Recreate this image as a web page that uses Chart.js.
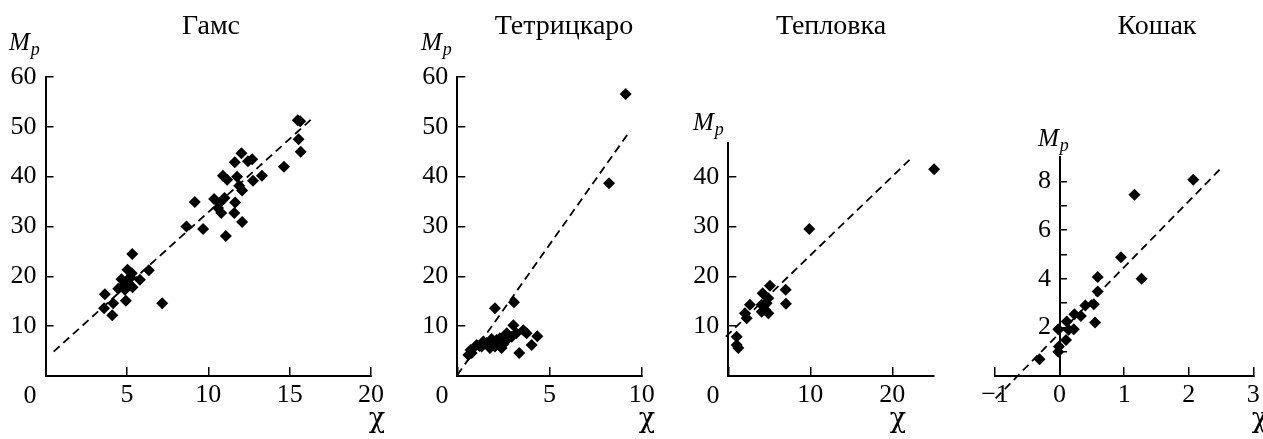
<!DOCTYPE html>
<html>
<head>
<meta charset="utf-8">
<script src="https://cdn.jsdelivr.net/npm/chart.js@4/dist/chart.umd.min.js"></script>
<style>
  body { margin: 0; background: #fff; width: 1263px; height: 439px; overflow: hidden; position: relative; }
  canvas { position: absolute; left: 0; top: 0; }
</style>
</head>
<body>
<canvas id="c1" width="1263" height="439"></canvas>
<canvas id="c2" width="1263" height="439"></canvas>
<canvas id="c3" width="1263" height="439"></canvas>
<canvas id="c4" width="1263" height="439"></canvas>
<script>
// Гамс
const gamsX = [3.65, 3.6, 4.16, 4.1, 4.94, 7.17, 5.33, 5.04, 4.67, 4.47, 5.3, 5.1, 4.88, 5.35, 5.8, 6.35, 4.8, 5.2,
  8.66, 9.17, 9.68, 10.36, 10.7, 10.8, 10.6, 11.0, 10.9, 11.16, 11.08, 11.63, 12.04, 11.77, 11.9, 12.08, 11.65, 11.6,
  12.08, 12.44, 12.7, 12.75, 13.3, 14.65, 15.5, 15.65, 15.55, 15.68];
const gamsY = [16.4, 13.6, 14.6, 12.2, 15.1, 14.6, 24.5, 21.3, 19.4, 17.5, 20.6, 18.6, 17.3, 17.8, 19.3, 21.2, 18.2, 19.8,
  30.0, 34.9, 29.5, 35.5, 34.7, 32.7, 33.7, 35.7, 40.2, 39.4, 28.1, 42.9, 44.7, 40.0, 38.2, 37.2, 34.8, 32.7,
  30.9, 43.1, 43.5, 39.2, 40.2, 42.0, 51.3, 51.1, 47.5, 45.0];
const gamsFitX = [0.5, 16.4];
const gamsFitY = [4.9, 51.7];

// Тетрицкаро
const tetrX = [9.13, 8.23, 2.04, 3.07, 3.04, 3.36, 4.03, 4.34, 3.58, 3.76, 3.2, 2.68, 0.6, 0.72, 1.05, 1.32, 1.59,
  1.86, 2.13, 2.04, 2.4, 2.31, 2.68, 2.95, 1.41, 0.78, 1.77, 2.5, 1.2, 2.2];
const tetrY = [56.6, 38.7, 13.6, 14.8, 10.2, 4.6, 6.2, 8.0, 9.2, 8.6, 8.6, 8.6, 4.2, 5.2, 6.2, 5.9, 6.6,
  7.4, 7.2, 5.9, 5.6, 7.6, 7.2, 7.9, 6.9, 4.6, 5.6, 6.4, 6.0, 6.8];
const tetrFitX = [0, 9.37];
const tetrFitY = [0.2, 49.2];

// Тепловка
const teplX = [25.1, 9.88, 7.0, 7.03, 5.08, 4.19, 4.88, 4.67, 2.64, 4.07, 4.47, 4.07, 4.88, 2.03, 2.24, 1.02, 1.22, 1.02];
const teplY = [41.5, 29.5, 17.3, 14.5, 18.1, 16.6, 15.6, 14.6, 14.3, 14.3, 13.3, 12.9, 12.6, 12.6, 11.6, 7.9, 5.6, 6.2];
const teplFitX = [-0.3, 22.1];
const teplFitY = [7.9, 43.4];

// Кошак
const koshX = [2.07, 1.16, 0.95, 1.27, 0.59, 0.59, 0.53, 0.4, 0.33, 0.23, 0.11, 0.22, -0.02, 0.1, -0.01, -0.02, -0.31, 0.55, 0.14];
const koshY = [8.08, 7.46, 4.89, 4.0, 4.07, 3.48, 2.95, 2.9, 2.47, 2.54, 2.24, 1.92, 1.92, 1.48, 1.21, 1.0, 0.69, 2.2, 1.9];
const koshFitX = [-0.99, 2.53];
const koshFitY = [-0.92, 8.63];

const toPts = (xs, ys) => xs.map((x, i) => ({ x: x, y: ys[i] }));
const serif = '"Liberation Serif", "Times New Roman", serif';

// titles, M_p, χ and the corner zero
const panelText = {
  id: 'panelText',
  afterDraw(chart, args, o) {
    const ctx = chart.ctx;
    ctx.save();
    ctx.fillStyle = '#000';
    ctx.textBaseline = 'alphabetic';
    ctx.textAlign = 'center';
    ctx.font = '28px ' + serif;
    ctx.fillText(o.title, o.titleX, 34);
    ctx.textAlign = 'left';
    ctx.font = 'italic 25px ' + serif;
    ctx.fillText('M', o.mX, o.mY);
    const w = ctx.measureText('M').width;
    ctx.font = 'italic 18px ' + serif;
    ctx.fillText('p', o.mX + w + 1, o.mY + 5);
    ctx.textAlign = 'center';
    ctx.font = '27px "DejaVu Serif", serif';
    ctx.fillText('χ', o.chiX, 427);
    if (o.zeroX != null) {
      ctx.font = '26px ' + serif;
      ctx.fillText('0', o.zeroX, 403);
    }
    ctx.restore();
  }
};

const X_H = 60, Y_W = 45;
const fixSize = (s) => {
  if (s.isHorizontal()) s.height = X_H; else s.width = Y_W;
  s.paddingLeft = 0; s.paddingRight = 0; s.paddingTop = 0; s.paddingBottom = 0;
};

function makePanel(id, o) {
  const yW = o.yPos ? 0 : Y_W;
  new Chart(document.getElementById(id), {
    type: 'scatter',
    data: {
      datasets: [{
        data: toPts(o.fitX, o.fitY),
        showLine: true,
        pointRadius: 0,
        borderColor: '#000',
        borderWidth: 1.8,
        borderDash: [8, 5],
        clip: false
      }, {
        data: toPts(o.xs, o.ys),
        pointStyle: 'rectRot',
        pointRadius: 6,
        backgroundColor: '#000',
        borderColor: '#000',
        borderWidth: 0,
        clip: false
      }]
    },
    plugins: [panelText],
    options: {
      responsive: false,
      animation: false,
      devicePixelRatio: 1,
      events: [],
      layout: { padding: { left: o.area[0] - yW, right: 1263 - o.area[1], top: o.area[2], bottom: 439 - o.area[3] - X_H } },
      plugins: {
        legend: { display: false },
        tooltip: { enabled: false },
        panelText: o.text
      },
      scales: {
        x: {
          type: 'linear',
          position: 'bottom',
          min: o.xMin, max: o.xMax,
          afterFit: fixSize,
          border: { color: '#000', width: 2 },
          grid: { drawOnChartArea: false, tickLength: -9, color: '#000', lineWidth: 1.5 },
          ticks: {
            stepSize: o.xStep,
            includeBounds: false,
            maxRotation: 0,
            autoSkip: false,
            padding: 13,
            color: '#000',
            font: { family: serif, size: 26 },
            callback: o.xLabel
          }
        },
        y: {
          type: 'linear',
          position: o.yPos || 'left',
          min: 0, max: o.yMax,
          afterFit: fixSize,
          border: { color: '#000', width: 2 },
          grid: {
            drawOnChartArea: false, tickLength: -8, lineWidth: 1.5,
            color: (c) => (c.tick && o.yNoTick && o.yNoTick.includes(c.tick.value)) ? 'rgba(0,0,0,0)' : '#000'
          },
          ticks: {
            stepSize: o.yStep,
            includeBounds: false,
            autoSkip: false,
            padding: 17,
            color: '#000',
            font: { family: serif, size: 26 },
            callback: o.yLabel
          }
        }
      }
    }
  });
}

const hideZero = (v) => (v === 0 ? '' : String(v));

makePanel('c1', {
  xs: gamsX, ys: gamsY, fitX: gamsFitX, fitY: gamsFitY,
  area: [45.5, 371, 77, 376],
  xMin: 0, xMax: 20, xStep: 5, yMax: 60, yStep: 10,
  xLabel: hideZero, yLabel: hideZero,
  text: { title: 'Гамс', titleX: 211, mX: 9, mY: 50, chiX: 377, zeroX: 30 }
});

makePanel('c2', {
  xs: tetrX, ys: tetrY, fitX: tetrFitX, fitY: tetrFitY,
  area: [457.3, 641.7, 77, 376],
  xMin: 0, xMax: 10, xStep: 5, yMax: 60, yStep: 10,
  xLabel: hideZero, yLabel: hideZero,
  text: { title: 'Тетрицкаро', titleX: 564, mX: 421, mY: 50, chiX: 647, zeroX: 442 }
});

makePanel('c3', {
  xs: teplX, ys: teplY, fitX: teplFitX, fitY: teplFitY,
  area: [728.3, 933.3, 143.4, 376],
  xMin: 0, xMax: 25, xStep: 10, yMax: 46.7, yStep: 10,
  xLabel: hideZero, yLabel: hideZero,
  text: { title: 'Тепловка', titleX: 831, mX: 693, mY: 130, chiX: 898, zeroX: 713 }
});

// the y axis here crosses at x = 0, labels get a small gap through a thin space
makePanel('c4', {
  xs: koshX, ys: koshY, fitX: koshFitX, fitY: koshFitY,
  area: [995, 1253.3, 157.3, 376],
  xMin: -1, xMax: 3, xStep: 1, yMax: 9, yStep: 1,
  yPos: { x: 0 }, yNoTick: [9],
  xLabel: (v) => (v < 0 ? '\u2212' + Math.abs(v) : String(v)),
  yLabel: (v) => (v > 0 && v % 2 === 0 ? String(v) + '\u2004' : ''),
  text: { title: 'Кошак', titleX: 1157, mX: 1038, mY: 146, chiX: 1260 }
});
</script>
</body>
</html>
